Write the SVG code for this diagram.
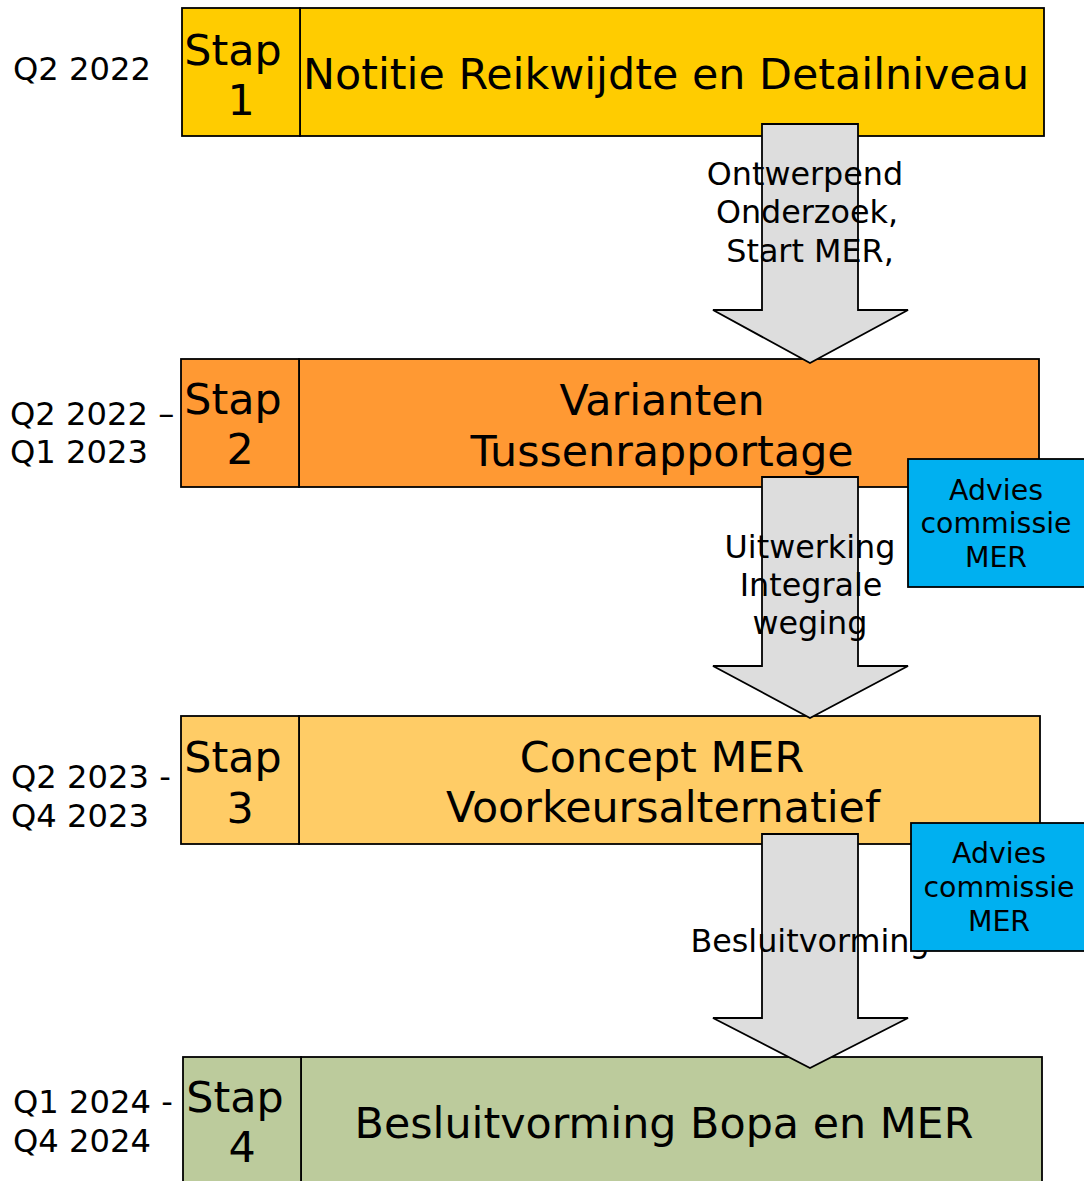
<svg xmlns="http://www.w3.org/2000/svg" width="1084" height="1181" viewBox="0 0 1084 1181">
<style>
text{font-family:"DejaVu Sans","Verdana",sans-serif;fill:#000}
.box{stroke:#000;stroke-width:1.8}
.big{font-size:42.8px;text-anchor:middle}
.q{font-size:32.2px}
.lbl{font-size:31.8px;text-anchor:middle}
.adv{font-size:28.4px;text-anchor:middle}
.arrow{fill:#DDDDDD;stroke:#000;stroke-width:1.8;stroke-linejoin:miter}
.s1{fill:#FFCC00}.s2{fill:#FF9933}.s3{fill:#FFCC66}.s4{fill:#BCCB9C}.blue{fill:#00B0F0}
</style>
<rect width="1084" height="1181" fill="#fff"/>
<g id="stap1">
<rect class="box s1" x="300" y="8" width="744" height="128"/>
<rect class="box s1" x="182" y="8" width="118" height="128"/>
<text class="big" x="233" y="65">Stap</text>
<text class="big" x="241" y="115">1</text>
<text class="big" x="666" y="89">Notitie Reikwijdte en Detailniveau</text>
<text class="q" x="13" y="80">Q2 2022</text>
</g>
<g id="stap2">
<rect class="box s2" x="299" y="359" width="740" height="128"/>
<rect class="box s2" x="181" y="359" width="118" height="128"/>
<text class="big" x="233" y="414">Stap</text>
<text class="big" x="240" y="464">2</text>
<text class="big" x="662" y="415">Varianten</text>
<text class="big" x="662" y="466">Tussenrapportage</text>
<text class="q" x="10" y="425">Q2 2022 –</text>
<text class="q" x="10" y="463">Q1 2023</text>
</g>
<g id="stap3">
<rect class="box s3" x="299" y="716" width="741" height="128"/>
<rect class="box s3" x="181" y="716" width="118" height="128"/>
<text class="big" x="233" y="772">Stap</text>
<text class="big" x="240" y="823">3</text>
<text class="big" x="662" y="772">Concept MER</text>
<text class="big" x="663" y="822">Voorkeursalternatief</text>
<text class="q" x="11" y="788">Q2 2023 -</text>
<text class="q" x="11" y="827">Q4 2023</text>
</g>
<g id="stap4">
<rect class="box s4" x="301" y="1057" width="741" height="140"/>
<rect class="box s4" x="183" y="1057" width="118" height="140"/>
<text class="big" x="235" y="1112">Stap</text>
<text class="big" x="242" y="1162">4</text>
<text class="big" x="664" y="1138">Besluitvorming Bopa en MER</text>
<text class="q" x="13" y="1113">Q1 2024 -</text>
<text class="q" x="13" y="1152">Q4 2024</text>
</g>
<g id="connectors">
<path class="arrow" d="M762,124 L858,124 L858,310 L908,310 L810,363 L713,310 L762,310 Z"/>
<path class="arrow" d="M762,477 L858,477 L858,666 L908,666 L810,718 L713,666 L762,666 Z"/>
<path class="arrow" d="M762,834 L858,834 L858,1018 L908,1018 L810,1068 L713,1018 L762,1018 Z"/>
<text class="lbl" x="805" y="185">Ontwerpend</text>
<text class="lbl" x="807" y="223">Onderzoek,</text>
<text class="lbl" x="810" y="262">Start MER,</text>
<text class="lbl" x="810" y="558">Uitwerking</text>
<text class="lbl" x="811" y="596">Integrale</text>
<text class="lbl" x="810" y="634">weging</text>
<text class="lbl" x="810" y="952">Besluitvorming</text>
</g>
<g id="advies1">
<rect class="box blue" x="908" y="459" width="190" height="128"/>
<text class="adv" x="996" y="500">Advies</text>
<text class="adv" x="996" y="533">commissie</text>
<text class="adv" x="996" y="567">MER</text>
</g>
<g id="advies2">
<rect class="box blue" x="911" y="823" width="190" height="128"/>
<text class="adv" x="999" y="863">Advies</text>
<text class="adv" x="999" y="897">commissie</text>
<text class="adv" x="999" y="931">MER</text>
</g>
</svg>
